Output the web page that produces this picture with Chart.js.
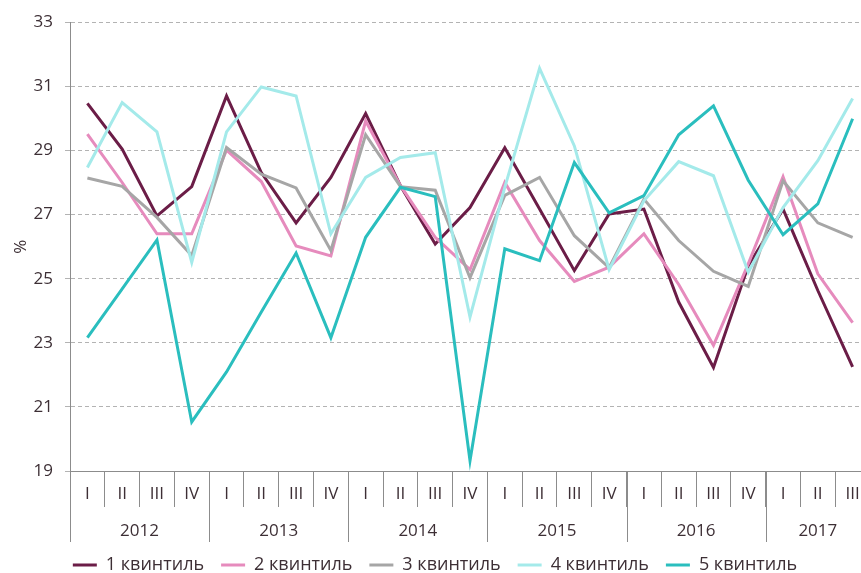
<!DOCTYPE html>
<html lang="ru">
<head>
<meta charset="UTF-8">
<title>Квинтили</title>
<script src="https://cdn.jsdelivr.net/npm/chart.js"></script>
<style>
  html, body { margin: 0; padding: 0; background: #fff; }
  .wrap { width: 861px; height: 573px; overflow: hidden; }
  canvas { display: block; }
</style>
</head>
<body>
<div class="wrap">
  <canvas id="chart" width="878" height="584"></canvas>
</div>
<script>
// categories
const quarters = ['I','II','III','IV','I','II','III','IV','I','II','III','IV',
                  'I','II','III','IV','I','II','III','IV','I','II','III'];
const years = ['2012','2013','2014','2015','2016','2017'];
const quartersPerYear = [4, 4, 4, 4, 4, 3];

// series, %
const q1 = [30.47, 29.04, 26.96, 27.87, 30.70, 28.31, 26.74, 28.16, 30.15, 27.90, 26.08, 27.22,
            29.08, 27.17, 25.25, 27.02, 27.17, 24.27, 22.23, 25.40, 27.17, 24.63, 22.25];
const q2 = [29.51, 28.00, 26.40, 26.40, 29.01, 28.03, 26.02, 25.71, 29.92, 27.90, 26.29, 25.28,
            28.00, 26.19, 24.91, 25.36, 26.40, 24.82, 22.92, 25.46, 28.18, 25.15, 23.63];
const q3 = [28.14, 27.88, 26.91, 25.72, 29.09, 28.26, 27.83, 25.88, 29.49, 27.87, 27.76, 25.03,
            27.60, 28.16, 26.34, 25.34, 27.48, 26.19, 25.23, 24.76, 28.05, 26.74, 26.29];
const q4 = [28.47, 30.49, 29.58, 25.51, 29.58, 30.98, 30.70, 26.40, 28.16, 28.78, 28.93, 23.80,
            27.85, 31.56, 29.14, 25.28, 27.43, 28.65, 28.21, 25.20, 27.22, 28.68, 30.62];
const q5 = [23.16, 24.68, 26.21, 20.53, 22.09, 23.96, 25.80, 23.16, 26.29, 27.85, 27.56, 19.32,
            25.93, 25.56, 28.62, 27.05, 27.59, 29.49, 30.39, 28.07, 26.37, 27.33, 29.99];

const seriesNames = ['1 квинтиль', '2 квинтиль', '3 квинтиль', '4 квинтиль', '5 квинтиль'];
const seriesColors = ['#6b1d47', '#e68bbd', '#a6a6a6', '#a4eaea', '#2abebe'];
const yTicks = [19, 21, 23, 25, 27, 29, 31, 33];

const textColor = '#3d2f35';
const axisColor = '#8c8c8c';
Chart.defaults.font.family = "'Open Sans', sans-serif";
Chart.defaults.color = textColor;

// year labels and long dividers under the quarter ticks
const yearAxis = {
    id: 'yearAxis',
    afterDraw(chart) {
        const ctx = chart.ctx;
        const x = chart.scales.x;
        const top = chart.chartArea.bottom;
        ctx.save();
        ctx.strokeStyle = axisColor;
        ctx.lineWidth = 1;
        ctx.fillStyle = textColor;
        ctx.font = "17px 'Open Sans', sans-serif";
        ctx.textAlign = 'center';
        ctx.textBaseline = 'middle';
        let start = 0;
        years.forEach((yr, k) => {
            const n = quartersPerYear[k];
            const xl = Math.round(x.getPixelForValue(start - 0.5)) + 0.5;
            ctx.beginPath();
            ctx.moveTo(xl, top);
            ctx.lineTo(xl, top + 71);
            ctx.stroke();
            const xc = (x.getPixelForValue(start) + x.getPixelForValue(start + n - 1)) / 2;
            ctx.fillText(yr, xc, top + 60);
            start += n;
        });
        ctx.restore();
    }
};

new Chart(document.getElementById('chart'), {
    type: 'line',
    data: {
        labels: quarters,
        datasets: [q1, q2, q3, q4, q5].map((d, i) => ({
            label: seriesNames[i],
            data: d,
            borderColor: seriesColors[i],
            backgroundColor: seriesColors[i],
            borderWidth: 3,
            pointRadius: 0,
            tension: 0,
            order: 5 - i
        }))
    },
    options: {
        responsive: false,
        animation: false,
        layout: { padding: { top: 21, right: 8, left: 0, bottom: 0 } },
        plugins: {
            tooltip: { enabled: false },
            legend: {
                position: 'bottom',
                labels: {
                    usePointStyle: true,
                    pointStyle: 'line',
                    pointStyleWidth: 24,
                    padding: 17,
                    color: textColor,
                    font: { size: 18 },
                    sort: (a, b) => a.datasetIndex - b.datasetIndex
                }
            }
        },
        scales: {
            x: {
                offset: true,
                grid: { offset: true, drawOnChartArea: false, tickLength: 36, color: axisColor },
                border: { color: axisColor },
                ticks: { padding: -23, font: { size: 17 }, color: textColor, maxRotation: 0, autoSkip: false },
                afterFit: s => { s.height = 68; }
            },
            y: {
                min: 19,
                max: 33,
                afterBuildTicks: s => { s.ticks = yTicks.map(v => ({ value: v })); },
                grid: { color: '#b3b3b3', tickLength: 5 },
                border: { color: axisColor, dash: [4, 3] },
                ticks: { padding: 12, font: { size: 17 }, color: textColor },
                title: { display: true, text: '%', color: textColor, font: { size: 17 }, padding: { top: 11, bottom: 0 } },
                afterFit: s => { s.width = 70; }
            }
        }
    },
    plugins: [yearAxis]
});
</script>
</body>
</html>
